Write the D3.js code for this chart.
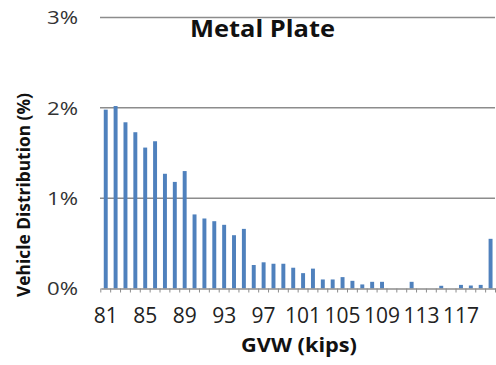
<!DOCTYPE html>
<html><head><meta charset="utf-8">
<script src="https://cdn.jsdelivr.net/npm/d3@7"></script>
<style>body{margin:0;background:#fff;} svg{display:block;}</style>
</head><body>
<svg id="c" width="496" height="365"></svg>
<script>
const categories = d3.range(81, 121).map(String);
const values = [1.98,2.02,1.84,1.73,1.56,1.63,1.27,1.18,1.30,0.82,
                0.775,0.745,0.705,0.59,0.66,0.26,0.29,0.274,0.274,0.23,
                0.17,0.22,0.10,0.10,0.126,0.085,0.045,0.074,0.074,0,
                0,0.074,0,0,0.03,0,0.04,0.033,0.04,0.55];
const xTickLabels = ["81","85","89","93","97","101","105","109","113","117"];
const yTicks = [0,1,2,3];
const title = "Metal Plate";
const xTitle = "GVW (kips)";
const yTitle = "Vehicle Distribution (%)";

const svg = d3.select("#c");
const x = d3.scaleBand().domain(categories).range([100.8, 495.5]).paddingInner(0.6).paddingOuter(0.3);
const y = d3.scaleLinear().domain([0,3]).range([288.5, 17.5]);
const font = "'Open Sans', sans-serif";

// gridlines
svg.append("g").selectAll("line").data(yTicks.slice(1)).join("line")
  .attr("x1", 100).attr("x2", 495).attr("y1", d=>y(d)).attr("y2", d=>y(d))
  .attr("stroke", "#8c8c8c").attr("stroke-width", 1.5);

// y labels
svg.append("g").selectAll("text").data(yTicks).join("text")
  .attr("x", 78).attr("y", d=>y(d)).attr("dy","0.36em").attr("text-anchor","end")
  .attr("font-family", font).attr("font-size", 19).attr("fill","#333")
  .attr("textLength", 31).attr("lengthAdjust","spacingAndGlyphs")
  .text(d=>d+"%");

// bars
svg.append("g").selectAll("rect").data(values).join("rect")
  .attr("x", (d,i)=>x(categories[i])).attr("width", x.bandwidth())
  .attr("y", d=>y(d)).attr("height", d=>y(0)-y(d))
  .attr("fill", "#4f81bd");

// x axis
const xAxis = d3.axisBottom(x).tickSize(0).tickFormat(d => xTickLabels.includes(d) ? d : "");
const gx = svg.append("g").attr("transform", `translate(0,${y(0)})`).call(xAxis);
gx.select(".domain").attr("stroke","#8c8c8c").attr("stroke-width",1.5);
gx.selectAll("text").attr("font-family", font).attr("font-size", 21).attr("fill","#222")
  .attr("y", 34.5).attr("dy", 0);
// boundary ticks
const step = x.step();
const x0 = x(categories[0]) - x.paddingOuter()*step - (x.paddingInner()*step)/2 + x.paddingInner()*step/2;
svg.append("g").selectAll("line").data(d3.range(categories.length + 1)).join("line")
  .attr("x1", i => x.range()[0] + i*step*(x.range()[1]-x.range()[0])/(step*categories.length))
  .attr("x2", i => x.range()[0] + i*step*(x.range()[1]-x.range()[0])/(step*categories.length))
  .attr("y1", y(0)).attr("y2", y(0)+4).attr("stroke","#8c8c8c").attr("stroke-width",1);

// titles
svg.append("text").attr("x", 262.5).attr("y", 37).attr("text-anchor","middle")
  .attr("font-family", font).attr("font-weight","bold").attr("font-size", 23).attr("fill","#111")
  .attr("textLength", 145).attr("lengthAdjust","spacingAndGlyphs").text(title);
svg.append("text").attr("x", 299).attr("y", 352).attr("text-anchor","middle")
  .attr("font-family", font).attr("font-weight","bold").attr("font-size", 19).attr("fill","#111")
  .attr("textLength", 116).attr("lengthAdjust","spacingAndGlyphs").text(xTitle);
svg.append("text").attr("transform","translate(30,195) rotate(-90)").attr("text-anchor","middle")
  .attr("font-family", font).attr("font-weight","bold").attr("font-size", 17).attr("fill","#111")
  .attr("textLength", 204).attr("lengthAdjust","spacingAndGlyphs").text(yTitle);
</script>
</body></html>
